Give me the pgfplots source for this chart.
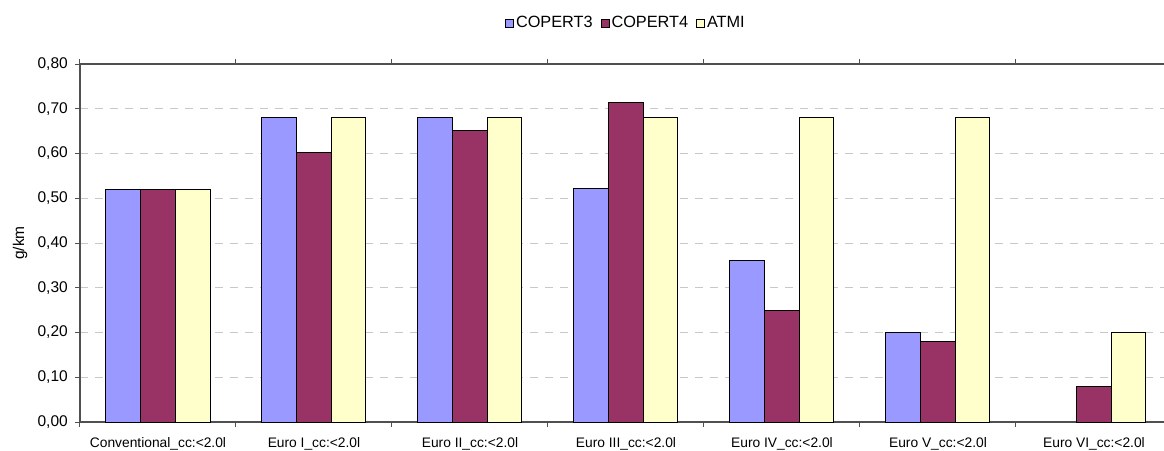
\documentclass[border=0pt]{standalone}
\usepackage{pgfplots}
\pgfplotsset{compat=1.18}
\usepackage{fontspec}
\setmainfont{Liberation Sans}
\definecolor{cThree}{HTML}{9999FF}
\definecolor{cFour}{HTML}{993366}
\definecolor{cAtmi}{HTML}{FFFFCC}
\definecolor{gridc}{HTML}{C8C8C8}
\definecolor{axc}{HTML}{505050}
\begin{document}
\begin{tikzpicture}
\useasboundingbox (0,0) rectangle (1164pt,450pt);
\begin{axis}[
  at={(80pt,28pt)}, anchor=south west,
  scale only axis, width=1092pt, height=358pt,
  xmin=-0.5, xmax=6.5, ymin=0, ymax=0.8,
  ybar=0pt, bar width=34.67pt,
  xtick={0,...,6},
  xticklabels={Conventional\_cc:<2.0l, Euro I\_cc:<2.0l, Euro II\_cc:<2.0l, Euro III\_cc:<2.0l, Euro IV\_cc:<2.0l, Euro V\_cc:<2.0l, Euro VI\_cc:<2.0l},
  minor xtick={-0.5,0.5,...,6.5},
  xtick style={draw=none},
  minor x tick style={draw=axc, line width=1pt},
  ytick={0,0.1,...,0.81},
  y tick style={draw=axc, line width=1pt},
  tick align=outside, major tick length=5pt, minor tick length=5pt,
  ymajorgrids,
  grid style={dash pattern=on 8pt off 7pt, draw=gridc, line width=1pt},
  axis line style={draw=axc, line width=1.2pt},
  /pgf/number format/assume math mode=true,
  yticklabel style={/pgf/number format/.cd, fixed, fixed zerofill, precision=2, use comma,
     /tikz/.cd, font=\fontsize{15.5}{18}\selectfont, inner sep=0pt, anchor=east, xshift=-7pt},
  xticklabel style={font=\fontsize{13.8}{16}\selectfont, inner sep=0pt, anchor=north, yshift=-10pt},
  ylabel={g/km},
  every axis y label/.style={at={(axis description cs:0,0.5)}, rotate=90, anchor=center, yshift=60pt, font=\fontsize{15.5}{18}\selectfont},
  legend columns=3,
  legend style={at={(0.5,1)}, anchor=center, yshift=41pt, draw=none, fill=none,
     font=\fontsize{16.3}{19}\selectfont, inner sep=0pt,
     /tikz/every even column/.append style={column sep=6pt}},
  legend image code/.code={\draw[#1, line width=0.8pt] (0pt,-4pt) rectangle (8pt,4pt);},
  every axis plot/.append style={draw=black, line width=1pt},
]
\addplot[fill=cThree] coordinates {(0,0.52) (1,0.68) (2,0.68) (3,0.522) (4,0.36) (5,0.20)};
\addplot[fill=cFour] coordinates {(0,0.52) (1,0.602) (2,0.652) (3,0.713) (4,0.25) (5,0.18) (6,0.08)};
\addplot[fill=cAtmi] coordinates {(0,0.52) (1,0.68) (2,0.68) (3,0.68) (4,0.68) (5,0.68) (6,0.20)};
\legend{COPERT3, COPERT4, ATMI}
\end{axis}
\end{tikzpicture}
\end{document}
